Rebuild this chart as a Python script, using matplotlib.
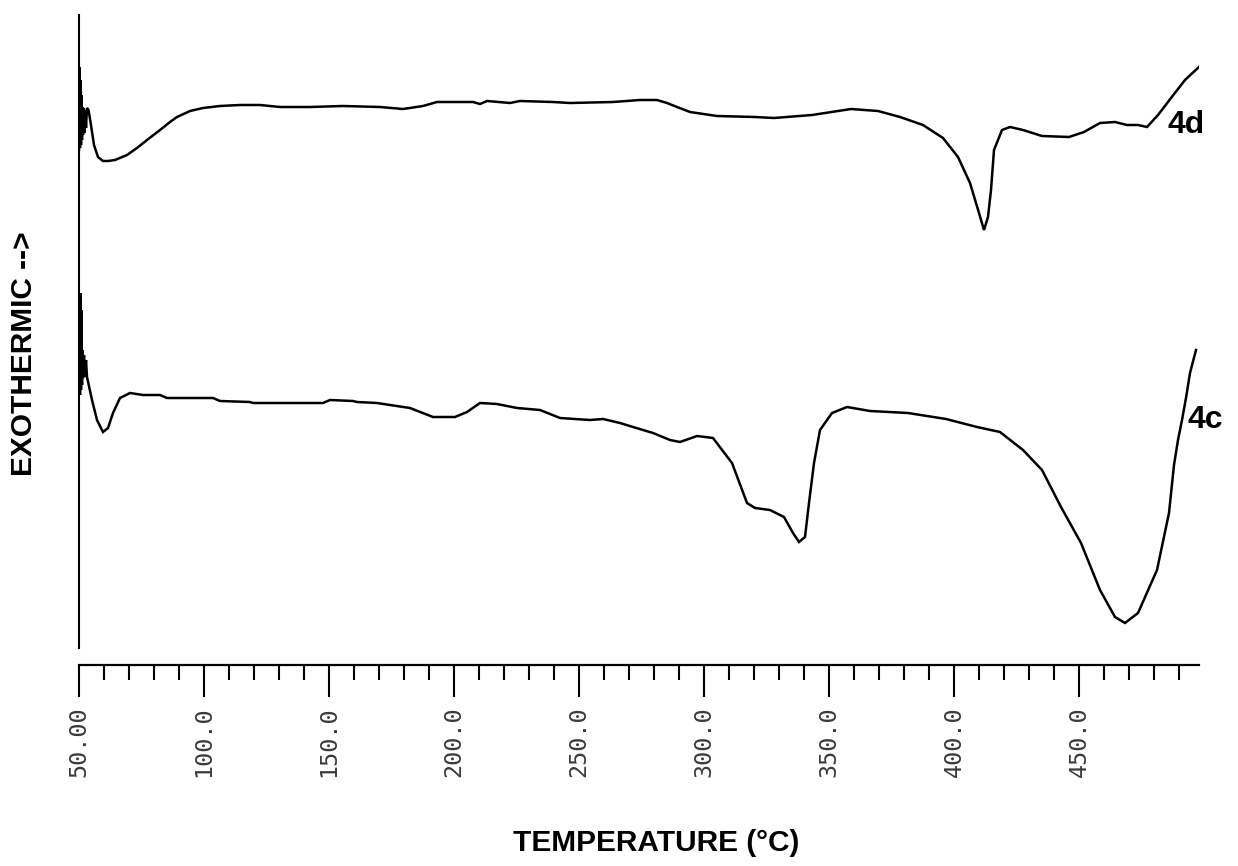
import matplotlib
matplotlib.use("Agg")
import matplotlib.pyplot as plt
from matplotlib.ticker import FixedLocator

# ---------------- data (temperature in °C, signal in arbitrary units) ----------------
temp_4d = [50.0, 50.2, 50.4, 50.6, 50.8, 51.0, 51.2, 51.4, 51.6, 51.9, 52.2, 52.5, 52.8, 53.2,
           53.8, 54.8, 56.0, 57.6, 59.6, 61.6, 64.4, 69.2, 73.2, 77.2, 82.4, 86.4, 89.2, 94.4,
           99.6, 106.4, 114.4, 122.4, 130.4, 142.4, 155.6, 170.4, 179.6, 187.6, 193.2, 207.6,
           210.4, 213.2, 222.4, 226.4, 239.6, 246.4, 263.6, 274.4, 281.2, 285.2, 289.2, 294.4,
           305.2, 320.4, 328.0, 343.2, 358.8, 369.6, 378.4, 387.6, 395.6, 401.6, 406.4, 410.0,
           412.0, 413.6, 414.8, 416.0, 419.2, 422.4, 427.6, 435.2, 446.0, 452.0, 458.4, 464.4,
           469.2, 473.6, 477.2, 481.6, 486.8, 492.4, 498.4]
signal_4d = [515, 598, 517, 585, 520, 570, 525, 558, 530, 557, 532, 555, 537, 557,
             555, 540, 520, 508, 504, 504, 505, 510, 517, 525, 535, 543, 548, 554,
             557, 559, 560, 560, 558, 558, 559, 558, 556, 559, 563, 563,
             561, 564, 562, 564, 563, 562, 563, 565, 565, 562, 558, 553,
             549, 548, 547, 550, 556, 554, 548, 540, 527, 508, 482, 452,
             435, 448, 475, 515, 535, 538, 535, 529, 528, 533, 542, 543,
             540, 540, 538, 550, 567, 585, 599]

temp_4c = [50.0, 50.2, 50.4, 50.6, 50.8, 51.0, 51.2, 51.4, 51.6, 52.0, 52.4, 52.8, 53.2,
           55.2, 57.2, 59.6, 61.6, 63.6, 66.4, 70.4, 75.6, 82.4, 85.2, 98.4, 103.6, 106.4,
           118.4, 119.6, 147.6, 150.4, 159.6, 161.2, 169.2, 174.4, 182.4, 191.6, 200.4, 205.2,
           210.4, 217.2, 225.2, 234.4, 242.4, 254.4, 259.6, 266.4, 271.6, 279.6, 286.4, 290.4,
           297.2, 303.6, 311.2, 317.2, 320.4, 326.4, 332.0, 335.6, 338.0, 340.4, 342.0, 344.0,
           346.4, 351.2, 357.2, 366.4, 381.6, 396.8, 409.2, 418.4, 427.6, 435.2, 442.8, 450.8,
           458.4, 464.4, 468.4, 473.6, 481.2, 486.0, 488.0, 489.6, 491.2, 492.8, 494.4, 496.8]
signal_4c = [285, 365, 270, 372, 275, 355, 280, 315, 287, 310, 288, 305, 288,
             265, 245, 233, 237, 252, 267, 272, 270, 270, 267, 267, 267, 264,
             263, 262, 262, 265, 264, 263, 262, 260, 257, 248, 248, 253,
             262, 261, 257, 255, 247, 245, 246, 242, 238, 232, 225, 223,
             229, 227, 202, 162, 157, 155, 148, 132, 123, 128, 162, 202,
             235, 252, 258, 254, 252, 246, 238, 233, 215, 195, 158, 122,
             75, 48, 42, 52, 95, 152, 200, 225, 245, 267, 292, 315]

major_ticks = [50, 100, 150, 200, 250, 300, 350, 400, 450]
major_labels = ["50.00", "100.0", "150.0", "200.0", "250.0", "300.0", "350.0", "400.0", "450.0"]
minor_ticks = list(range(50, 491, 10))

series_labels = ["4d", "4c"]
label_pos = [(485.6, 532), (493.6, 237)]

W, H = 1238, 866
fig = plt.figure(figsize=(W / 100, H / 100), dpi=100)
ax = fig.add_axes([79 / W, 1 - 665 / H, (1199 - 79) / W, 655 / H])

ax.plot(temp_4d, signal_4d, color="black", lw=1.8, solid_joinstyle="miter")
ax.plot(temp_4c, signal_4c, color="black", lw=1.8, solid_joinstyle="miter")

ax.set_xlim(50, 498)
ax.set_ylim(0, 655)

for s in ["top", "right"]:
    ax.spines[s].set_visible(False)
ax.spines["left"].set_bounds(17, 650)
ax.spines["left"].set_linewidth(1.5)
ax.spines["bottom"].set_linewidth(1.6)
ax.tick_params(axis="y", left=False, labelleft=False)

ax.xaxis.set_major_locator(FixedLocator(major_ticks))
ax.set_xticklabels(major_labels, rotation=90, family="DejaVu Sans Mono",
                   fontsize=16.8, color="#3a3a3a")
ax.xaxis.set_minor_locator(FixedLocator(minor_ticks))
ax.tick_params(axis="x", which="major", direction="out", length=23, width=1.5, pad=7)
ax.tick_params(axis="x", which="minor", direction="out", length=11, width=1.5)

for lab, (tx, ty) in zip(series_labels, label_pos):
    ax.text(tx, ty, lab, fontsize=23, fontweight="bold", family="Liberation Sans",
            ha="left", va="baseline", clip_on=False)

fig.text(656 / W, 1 - 843 / H, "TEMPERATURE (°C)", ha="center", va="center",
         fontsize=21.5, fontweight="bold", family="Liberation Sans")
fig.text(24 / W, 1 - 354 / H, "EXOTHERMIC -->", ha="center", va="center", rotation=90,
         fontsize=21.5, fontweight="bold", family="Liberation Sans")

fig.savefig("out.png", dpi=100)
